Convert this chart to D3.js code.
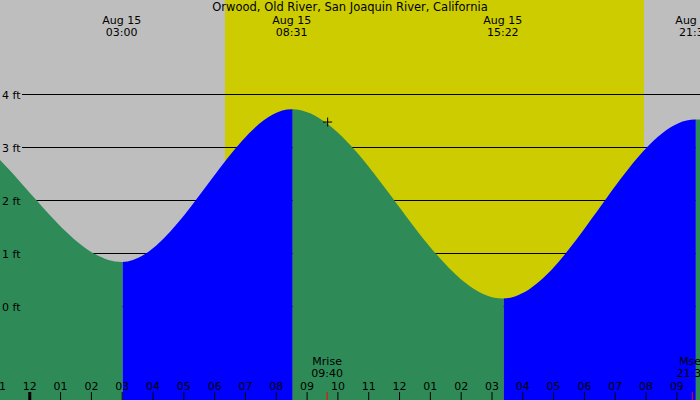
<!DOCTYPE html>
<html lang="en">
<head>
<meta charset="UTF-8">
<title>Tide chart</title>
<script src="https://cdn.jsdelivr.net/npm/d3@7"></script>
<style>
  body { margin: 0; background: #fff; }
  svg { display: block; font-family: "DejaVu Sans", sans-serif; font-size: 11px; }
</style>
</head>
<body>
<script>
const title = "Orwood, Old River, San Joaquin River, California"

// tide highs and lows (the first and last are just off the chart)
const tideTimes = ["2024-08-14 15:10", "2024-08-14 21:00", "2024-08-15 03:00", "2024-08-15 08:31",
                   "2024-08-15 15:22", "2024-08-15 21:36", "2024-08-16 03:50"]
const tideHeights = [0.3, 3.48, 0.84, 3.72, 0.15, 3.53, 0.9]

const sunTimes = ["2024-08-15 06:21", "2024-08-15 19:57"]

const moonLabels = ["Mrise", "Mset"]
const moonTimes = ["2024-08-15 09:40", "2024-08-15 21:31"]
const moonMarker = {time: "2024-08-15 09:40", height: 3.48}

const heightTicks = [0, 1, 2, 3, 4]
const viewStart = "2024-08-14 23:03"
const viewEnd = "2024-08-15 21:46"

const w = 700
const h = 400
const parse = d3.timeParse("%Y-%m-%d %H:%M")

const tide = tideTimes.map((t, i) => ({time: parse(t), height: tideHeights[i]}))

const x = d3.scaleTime().domain([parse(viewStart), parse(viewEnd)]).range([0, w])
const y = d3.scaleLinear().domain([0, 4]).range([306.5, 94.5])

const svg = d3.select("body").append("svg").attr("width", w).attr("height", h)

// night / day background
svg.append("rect").attr("width", w).attr("height", h).attr("fill", "#bebebe")
svg.append("rect")
    .attr("x", x(parse(sunTimes[0])))
    .attr("width", x(parse(sunTimes[1])) - x(parse(sunTimes[0])))
    .attr("height", h)
    .attr("fill", "#cccc00")

// grid lines sit behind the water
svg.selectAll("line.grid").data(heightTicks).enter()
    .append("line")
    .attr("class", "grid")
    .attr("x1", 22).attr("x2", w)
    .attr("y1", d => y(d)).attr("y2", d => y(d))
    .attr("stroke", "#000")

// water, green when falling and blue when rising
const area = d3.area()
    .x(d => x(d.time))
    .y0(h)
    .y1(d => y(d.height))
    .curve(d3.curveMonotoneX)

const defs = svg.append("defs")
tide.slice(0, -1).forEach((d, i) => {
    const next = tide[i + 1]
    defs.append("clipPath").attr("id", "seg" + i)
        .append("rect")
        .attr("x", x(d.time) + 1)
        .attr("width", x(next.time) - x(d.time))
        .attr("height", h)
    svg.append("path")
        .datum(tide)
        .attr("d", area)
        .attr("clip-path", `url(#seg${i})`)
        .attr("fill", next.height < d.height ? "#2e8b57" : "#0000ff")
})

svg.selectAll("text.ylab").data(heightTicks).enter()
    .append("text")
    .attr("class", "ylab")
    .attr("x", 2)
    .attr("y", d => y(d) + 4)
    .text(d => d + " ft")

// moon marker
svg.append("path")
    .attr("transform", `translate(${x(parse(moonMarker.time))},${y(moonMarker.height)})`)
    .attr("d", "M-4,0H5M0.5,-4.5V4.5")
    .attr("stroke", "#000")

// hour axis along the bottom
const hours = d3.timeHour.range(d3.timeHour.floor(x.domain()[0]), x.domain()[1])
const hourAxis = d3.axisTop(x)
    .tickValues(hours)
    .tickFormat(d3.timeFormat("%I"))
    .tickSize(8)
    .tickPadding(2)

const ax = svg.append("g").attr("transform", `translate(0,${h})`).call(hourAxis)
ax.select(".domain").remove()
ax.selectAll("text").attr("font-size", 11).attr("font-family", "DejaVu Sans, sans-serif").attr("fill", "#000")
ax.selectAll(".tick line")
    .attr("stroke", "#000")
    .attr("stroke-width", d => d.getHours() === 0 ? 3 : 1)

// moon rise / set
const moon = moonTimes.map((t, i) => ({time: parse(t), label: moonLabels[i]}))
svg.selectAll("line.moon").data(moon).enter()
    .append("line")
    .attr("class", "moon")
    .attr("x1", d => x(d.time)).attr("x2", d => x(d.time))
    .attr("y1", 392).attr("y2", h)
    .attr("stroke", "#ff0000")
const moonText = svg.selectAll("text.moon").data(moon).enter()
    .append("text")
    .attr("class", "moon")
    .attr("text-anchor", "middle")
moonText.append("tspan").attr("x", d => x(d.time)).attr("y", 365).text(d => d.label)
moonText.append("tspan").attr("x", d => x(d.time)).attr("y", 377).text(d => d3.timeFormat("%H:%M")(d.time))

// labels for the highs and lows in view
const inView = tide.filter(d => d.time >= x.domain()[0] && d.time <= x.domain()[1])
const topText = svg.selectAll("text.ext").data(inView).enter()
    .append("text")
    .attr("class", "ext")
    .attr("text-anchor", "middle")
topText.append("tspan").attr("x", d => x(d.time)).attr("y", 24).text(d => d3.timeFormat("%b %d")(d.time))
topText.append("tspan").attr("x", d => x(d.time)).attr("y", 36).text(d => d3.timeFormat("%H:%M")(d.time))

svg.append("text")
    .attr("x", w / 2)
    .attr("y", 11)
    .attr("text-anchor", "middle")
    .attr("font-size", 11.5)
    .text(title)
</script>
</body>
</html>
